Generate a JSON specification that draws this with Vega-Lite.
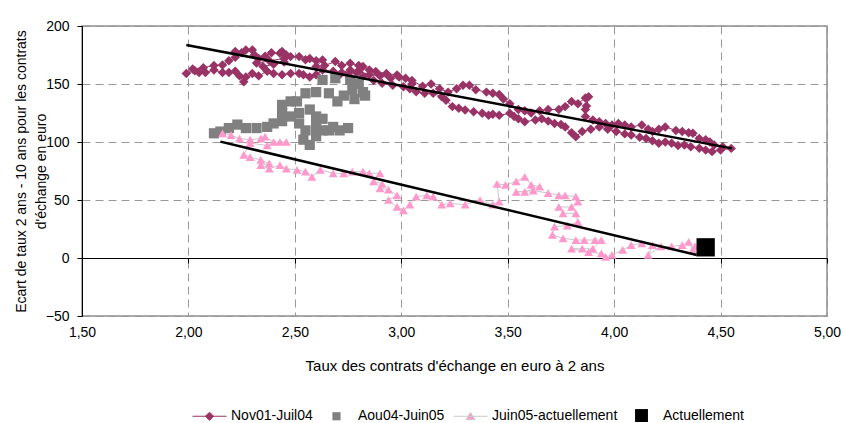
{
  "$schema": "https://vega.github.io/schema/vega-lite/v6.json",
  "width": 745,
  "height": 290,
  "autosize": "none",
  "padding": {"left": 82, "top": 26, "right": 16, "bottom": 107},
  "background": "white",
  "config": {
    "font": "Liberation Sans",
    "view": {"stroke": "#8f8f8f", "strokeWidth": 1.5},
    "axis": {
      "labelFont": "Liberation Sans", "labelFontSize": 14, "labelColor": "#000",
      "titleFont": "Liberation Sans", "titleFontSize": 14, "titleFontWeight": "normal", "titleColor": "#000",
      "gridColor": "#999999", "gridDash": [8, 5], "gridWidth": 1
    },
    "legend": {"orient": "none", "legendX": 110, "legendY": 372, "direction": "horizontal", "title": null,
      "symbolSize": 1156, "symbolStrokeWidth": 1, "symbolOpacity": 1, "labelFont": "Liberation Sans", "labelFontSize": 14, "labelColor": "#000", "labelOffset": 4, "columnPadding": 6}
  },
  "datasets": {
    "pts": [
      {"series":"Nov01-Juil04","x":3.05,"y":150},{"series":"Nov01-Juil04","x":3.02,"y":155},{"series":"Nov01-Juil04","x":2.99,"y":156},{"series":"Nov01-Juil04","x":3.05,"y":153},{"series":"Nov01-Juil04","x":3.10,"y":148},{"series":"Nov01-Juil04","x":3.14,"y":150},{"series":"Nov01-Juil04","x":3.18,"y":146},{"series":"Nov01-Juil04","x":3.22,"y":143},{"series":"Nov01-Juil04","x":3.26,"y":146},{"series":"Nov01-Juil04","x":3.29,"y":149},{"series":"Nov01-Juil04","x":3.32,"y":149},{"series":"Nov01-Juil04","x":3.35,"y":145},{"series":"Nov01-Juil04","x":3.40,"y":143},{"series":"Nov01-Juil04","x":3.43,"y":142},{"series":"Nov01-Juil04","x":3.46,"y":141},{"series":"Nov01-Juil04","x":3.48,"y":137},{"series":"Nov01-Juil04","x":3.51,"y":133},{"series":"Nov01-Juil04","x":3.55,"y":128},{"series":"Nov01-Juil04","x":3.58,"y":127},{"series":"Nov01-Juil04","x":3.61,"y":125},{"series":"Nov01-Juil04","x":3.65,"y":127},{"series":"Nov01-Juil04","x":3.69,"y":128},{"series":"Nov01-Juil04","x":3.74,"y":128},{"series":"Nov01-Juil04","x":3.77,"y":130.5},{"series":"Nov01-Juil04","x":3.80,"y":135},{"series":"Nov01-Juil04","x":3.83,"y":133},{"series":"Nov01-Juil04","x":3.865,"y":138},{"series":"Nov01-Juil04","x":3.88,"y":139},{"series":"Nov01-Juil04","x":3.87,"y":131},{"series":"Nov01-Juil04","x":3.865,"y":128},{"series":"Nov01-Juil04","x":3.865,"y":122},{"series":"Nov01-Juil04","x":3.90,"y":119},{"series":"Nov01-Juil04","x":3.93,"y":117.5},{"series":"Nov01-Juil04","x":3.96,"y":116},{"series":"Nov01-Juil04","x":3.99,"y":114.7},{"series":"Nov01-Juil04","x":4.02,"y":116},{"series":"Nov01-Juil04","x":4.05,"y":114.7},{"series":"Nov01-Juil04","x":4.08,"y":113},{"series":"Nov01-Juil04","x":4.13,"y":114.7},{"series":"Nov01-Juil04","x":4.16,"y":111},{"series":"Nov01-Juil04","x":4.18,"y":109},{"series":"Nov01-Juil04","x":4.21,"y":111},{"series":"Nov01-Juil04","x":4.24,"y":113},{"series":"Nov01-Juil04","x":4.29,"y":110},{"series":"Nov01-Juil04","x":4.32,"y":109},{"series":"Nov01-Juil04","x":4.35,"y":108},{"series":"Nov01-Juil04","x":4.37,"y":107.5},{"series":"Nov01-Juil04","x":4.40,"y":103},{"series":"Nov01-Juil04","x":4.43,"y":102},{"series":"Nov01-Juil04","x":4.45,"y":100},{"series":"Nov01-Juil04","x":4.47,"y":97.4},{"series":"Nov01-Juil04","x":4.51,"y":96},{"series":"Nov01-Juil04","x":4.55,"y":94.5},
      {"series":"Nov01-Juil04","x":4.50,"y":93},{"series":"Nov01-Juil04","x":4.46,"y":91.7},{"series":"Nov01-Juil04","x":4.43,"y":93},{"series":"Nov01-Juil04","x":4.40,"y":94.6},{"series":"Nov01-Juil04","x":4.36,"y":96},{"series":"Nov01-Juil04","x":4.33,"y":97.4},{"series":"Nov01-Juil04","x":4.30,"y":97},{"series":"Nov01-Juil04","x":4.27,"y":98.9},{"series":"Nov01-Juil04","x":4.24,"y":100},{"series":"Nov01-Juil04","x":4.21,"y":98.9},{"series":"Nov01-Juil04","x":4.18,"y":101},{"series":"Nov01-Juil04","x":4.15,"y":103},{"series":"Nov01-Juil04","x":4.12,"y":104},{"series":"Nov01-Juil04","x":4.08,"y":106},{"series":"Nov01-Juil04","x":4.05,"y":107},{"series":"Nov01-Juil04","x":4.01,"y":109},{"series":"Nov01-Juil04","x":3.97,"y":111},{"series":"Nov01-Juil04","x":3.93,"y":113},{"series":"Nov01-Juil04","x":3.89,"y":111},{"series":"Nov01-Juil04","x":3.85,"y":109},{"series":"Nov01-Juil04","x":3.82,"y":104.6},{"series":"Nov01-Juil04","x":3.80,"y":108},{"series":"Nov01-Juil04","x":3.77,"y":113},{"series":"Nov01-Juil04","x":3.75,"y":115},{"series":"Nov01-Juil04","x":3.72,"y":116},{"series":"Nov01-Juil04","x":3.69,"y":118},{"series":"Nov01-Juil04","x":3.66,"y":120},{"series":"Nov01-Juil04","x":3.63,"y":119},{"series":"Nov01-Juil04","x":3.58,"y":117.5},{"series":"Nov01-Juil04","x":3.55,"y":120},{"series":"Nov01-Juil04","x":3.53,"y":122},{"series":"Nov01-Juil04","x":3.51,"y":124.7},{"series":"Nov01-Juil04","x":3.46,"y":123},{"series":"Nov01-Juil04","x":3.43,"y":124},{"series":"Nov01-Juil04","x":3.41,"y":123},{"series":"Nov01-Juil04","x":3.38,"y":124.7},{"series":"Nov01-Juil04","x":3.34,"y":126},{"series":"Nov01-Juil04","x":3.30,"y":127.6},{"series":"Nov01-Juil04","x":3.27,"y":129},{"series":"Nov01-Juil04","x":3.24,"y":130.5},{"series":"Nov01-Juil04","x":3.21,"y":136},{"series":"Nov01-Juil04","x":3.19,"y":139},{"series":"Nov01-Juil04","x":3.15,"y":142},{"series":"Nov01-Juil04","x":3.11,"y":142},{"series":"Nov01-Juil04","x":3.07,"y":143.4},{"series":"Nov01-Juil04","x":3.04,"y":146},{"series":"Nov01-Juil04","x":3.01,"y":147.7},{"series":"Nov01-Juil04","x":2.96,"y":149},{"series":"Nov01-Juil04","x":2.91,"y":150.6},{"series":"Nov01-Juil04","x":2.87,"y":153},{"series":"Nov01-Juil04","x":2.82,"y":156.4},{"series":"Nov01-Juil04","x":2.79,"y":160},{"series":"Nov01-Juil04","x":2.76,"y":162},{"series":"Nov01-Juil04","x":2.72,"y":160},{"series":"Nov01-Juil04","x":2.68,"y":161},{"series":"Nov01-Juil04","x":2.63,"y":162},{"series":"Nov01-Juil04","x":2.60,"y":158},{"series":"Nov01-Juil04","x":2.57,"y":156},{"series":"Nov01-Juil04","x":2.54,"y":158},{"series":"Nov01-Juil04","x":2.52,"y":159},{"series":"Nov01-Juil04","x":2.48,"y":159},{"series":"Nov01-Juil04","x":2.44,"y":158},{"series":"Nov01-Juil04","x":2.40,"y":159},{"series":"Nov01-Juil04","x":2.37,"y":161},{"series":"Nov01-Juil04","x":2.33,"y":157},{"series":"Nov01-Juil04","x":2.30,"y":159},{"series":"Nov01-Juil04","x":2.27,"y":156},{"series":"Nov01-Juil04","x":2.26,"y":152},{"series":"Nov01-Juil04","x":2.24,"y":157},{"series":"Nov01-Juil04","x":2.22,"y":161},{"series":"Nov01-Juil04","x":2.19,"y":160},{"series":"Nov01-Juil04","x":2.16,"y":160},{"series":"Nov01-Juil04","x":2.12,"y":162},{"series":"Nov01-Juil04","x":2.08,"y":160},{"series":"Nov01-Juil04","x":2.05,"y":160},{"series":"Nov01-Juil04","x":2.03,"y":161.5},{"series":"Nov01-Juil04","x":1.99,"y":159},
      {"series":"Nov01-Juil04","x":2.02,"y":163},{"series":"Nov01-Juil04","x":2.07,"y":164},{"series":"Nov01-Juil04","x":2.12,"y":166},{"series":"Nov01-Juil04","x":2.16,"y":166.4},{"series":"Nov01-Juil04","x":2.19,"y":170},{"series":"Nov01-Juil04","x":2.22,"y":173},{"series":"Nov01-Juil04","x":2.22,"y":178},{"series":"Nov01-Juil04","x":2.25,"y":177},{"series":"Nov01-Juil04","x":2.27,"y":179.4},{"series":"Nov01-Juil04","x":2.30,"y":179.4},{"series":"Nov01-Juil04","x":2.31,"y":175},{"series":"Nov01-Juil04","x":2.33,"y":172},{"series":"Nov01-Juil04","x":2.36,"y":174},{"series":"Nov01-Juil04","x":2.39,"y":177},{"series":"Nov01-Juil04","x":2.43,"y":176.5},{"series":"Nov01-Juil04","x":2.44,"y":178},{"series":"Nov01-Juil04","x":2.46,"y":175},{"series":"Nov01-Juil04","x":2.48,"y":173.6},{"series":"Nov01-Juil04","x":2.45,"y":169},{"series":"Nov01-Juil04","x":2.40,"y":167},{"series":"Nov01-Juil04","x":2.35,"y":165},{"series":"Nov01-Juil04","x":2.32,"y":168},{"series":"Nov01-Juil04","x":2.38,"y":170},{"series":"Nov01-Juil04","x":2.45,"y":172},{"series":"Nov01-Juil04","x":2.52,"y":173.6},{"series":"Nov01-Juil04","x":2.55,"y":171},{"series":"Nov01-Juil04","x":2.57,"y":172},{"series":"Nov01-Juil04","x":2.60,"y":170},{"series":"Nov01-Juil04","x":2.63,"y":170.7},{"series":"Nov01-Juil04","x":2.60,"y":165},{"series":"Nov01-Juil04","x":2.64,"y":166},{"series":"Nov01-Juil04","x":2.69,"y":169.3},{"series":"Nov01-Juil04","x":2.72,"y":166},{"series":"Nov01-Juil04","x":2.76,"y":167.9},{"series":"Nov01-Juil04","x":2.80,"y":166},{"series":"Nov01-Juil04","x":2.82,"y":165},{"series":"Nov01-Juil04","x":2.85,"y":162},{"series":"Nov01-Juil04","x":2.88,"y":160.7},{"series":"Nov01-Juil04","x":2.93,"y":159},{"series":"Nov01-Juil04","x":2.98,"y":157.8},{"series":"Nov01-Juil04","x":2.95,"y":155},{"series":"Nov01-Juil04","x":2.90,"y":157},{"series":"Nov01-Juil04","x":2.85,"y":158},{"series":"Nov01-Juil04","x":2.80,"y":161},{"series":"Nov01-Juil04","x":2.75,"y":158},{"series":"Nov01-Juil04","x":2.70,"y":156},
      {"series":"Aou04-Juin05","x":2.63,"y":153.5},{"series":"Aou04-Juin05","x":2.69,"y":155},{"series":"Aou04-Juin05","x":2.76,"y":153.5},{"series":"Aou04-Juin05","x":2.80,"y":150},{"series":"Aou04-Juin05","x":2.77,"y":145},{"series":"Aou04-Juin05","x":2.82,"y":143},{"series":"Aou04-Juin05","x":2.83,"y":140},{"series":"Aou04-Juin05","x":2.78,"y":137},{"series":"Aou04-Juin05","x":2.73,"y":140},{"series":"Aou04-Juin05","x":2.70,"y":135},{"series":"Aou04-Juin05","x":2.66,"y":142},{"series":"Aou04-Juin05","x":2.60,"y":143},{"series":"Aou04-Juin05","x":2.55,"y":142},{"series":"Aou04-Juin05","x":2.51,"y":135},{"series":"Aou04-Juin05","x":2.48,"y":135},{"series":"Aou04-Juin05","x":2.44,"y":132},{"series":"Aou04-Juin05","x":2.44,"y":125},{"series":"Aou04-Juin05","x":2.48,"y":122},{"series":"Aou04-Juin05","x":2.52,"y":125},{"series":"Aou04-Juin05","x":2.57,"y":128},{"series":"Aou04-Juin05","x":2.60,"y":122},{"series":"Aou04-Juin05","x":2.63,"y":120},{"series":"Aou04-Juin05","x":2.60,"y":113},{"series":"Aou04-Juin05","x":2.55,"y":110},{"series":"Aou04-Juin05","x":2.54,"y":102},{"series":"Aou04-Juin05","x":2.57,"y":97.5},{"series":"Aou04-Juin05","x":2.60,"y":105},{"series":"Aou04-Juin05","x":2.63,"y":110},{"series":"Aou04-Juin05","x":2.68,"y":113},{"series":"Aou04-Juin05","x":2.71,"y":110},{"series":"Aou04-Juin05","x":2.75,"y":112},{"series":"Aou04-Juin05","x":2.66,"y":110},{"series":"Aou04-Juin05","x":2.60,"y":116},{"series":"Aou04-Juin05","x":2.52,"y":116},{"series":"Aou04-Juin05","x":2.44,"y":118},{"series":"Aou04-Juin05","x":2.40,"y":116},{"series":"Aou04-Juin05","x":2.37,"y":113},{"series":"Aou04-Juin05","x":2.32,"y":112},{"series":"Aou04-Juin05","x":2.27,"y":112},{"series":"Aou04-Juin05","x":2.23,"y":115},{"series":"Aou04-Juin05","x":2.19,"y":112},{"series":"Aou04-Juin05","x":2.15,"y":109},{"series":"Aou04-Juin05","x":2.12,"y":107.5},
      {"series":"Juin05-actuellement","x":2.16,"y":107.5},{"series":"Juin05-actuellement","x":2.20,"y":106},{"series":"Juin05-actuellement","x":2.24,"y":103},{"series":"Juin05-actuellement","x":2.29,"y":102},{"series":"Juin05-actuellement","x":2.34,"y":103},{"series":"Juin05-actuellement","x":2.36,"y":104.6},{"series":"Juin05-actuellement","x":2.40,"y":100},{"series":"Juin05-actuellement","x":2.43,"y":100},{"series":"Juin05-actuellement","x":2.46,"y":100},{"series":"Juin05-actuellement","x":2.37,"y":97},{"series":"Juin05-actuellement","x":2.29,"y":99},{"series":"Juin05-actuellement","x":2.26,"y":89},{"series":"Juin05-actuellement","x":2.29,"y":87},{"series":"Juin05-actuellement","x":2.34,"y":84.5},{"series":"Juin05-actuellement","x":2.38,"y":81.6},{"series":"Juin05-actuellement","x":2.34,"y":80},{"series":"Juin05-actuellement","x":2.38,"y":77},{"series":"Juin05-actuellement","x":2.43,"y":80},{"series":"Juin05-actuellement","x":2.46,"y":77},{"series":"Juin05-actuellement","x":2.51,"y":76},{"series":"Juin05-actuellement","x":2.55,"y":74.5},{"series":"Juin05-actuellement","x":2.58,"y":70},{"series":"Juin05-actuellement","x":2.62,"y":76},{"series":"Juin05-actuellement","x":2.68,"y":73},{"series":"Juin05-actuellement","x":2.73,"y":73},{"series":"Juin05-actuellement","x":2.77,"y":74.5},{"series":"Juin05-actuellement","x":2.82,"y":74.5},{"series":"Juin05-actuellement","x":2.85,"y":73},{"series":"Juin05-actuellement","x":2.90,"y":73},{"series":"Juin05-actuellement","x":2.87,"y":66},{"series":"Juin05-actuellement","x":2.91,"y":64},{"series":"Juin05-actuellement","x":2.90,"y":60},{"series":"Juin05-actuellement","x":2.94,"y":59},{"series":"Juin05-actuellement","x":2.98,"y":54},{"series":"Juin05-actuellement","x":2.94,"y":50},{"series":"Juin05-actuellement","x":2.98,"y":44},{"series":"Juin05-actuellement","x":3.01,"y":41},{"series":"Juin05-actuellement","x":3.04,"y":46},{"series":"Juin05-actuellement","x":3.07,"y":53},{"series":"Juin05-actuellement","x":3.12,"y":54},{"series":"Juin05-actuellement","x":3.15,"y":53},{"series":"Juin05-actuellement","x":3.19,"y":46},{"series":"Juin05-actuellement","x":3.23,"y":47},{"series":"Juin05-actuellement","x":3.30,"y":46},{"series":"Juin05-actuellement","x":3.37,"y":50},{"series":"Juin05-actuellement","x":3.43,"y":46},{"series":"Juin05-actuellement","x":3.46,"y":48.6},{"series":"Juin05-actuellement","x":3.45,"y":64},{"series":"Juin05-actuellement","x":3.49,"y":63},{"series":"Juin05-actuellement","x":3.54,"y":66},{"series":"Juin05-actuellement","x":3.58,"y":70},{"series":"Juin05-actuellement","x":3.61,"y":63},{"series":"Juin05-actuellement","x":3.65,"y":61.5},{"series":"Juin05-actuellement","x":3.58,"y":57},{"series":"Juin05-actuellement","x":3.54,"y":57},{"series":"Juin05-actuellement","x":3.62,"y":58},{"series":"Juin05-actuellement","x":3.69,"y":56},{"series":"Juin05-actuellement","x":3.74,"y":54},{"series":"Juin05-actuellement","x":3.77,"y":54},{"series":"Juin05-actuellement","x":3.82,"y":53},{"series":"Juin05-actuellement","x":3.83,"y":48.6},{"series":"Juin05-actuellement","x":3.80,"y":44},{"series":"Juin05-actuellement","x":3.74,"y":44},{"series":"Juin05-actuellement","x":3.76,"y":38.5},{"series":"Juin05-actuellement","x":3.82,"y":38.5},{"series":"Juin05-actuellement","x":3.83,"y":31},{"series":"Juin05-actuellement","x":3.78,"y":28},{"series":"Juin05-actuellement","x":3.72,"y":27},{"series":"Juin05-actuellement","x":3.71,"y":20},{"series":"Juin05-actuellement","x":3.76,"y":17},{"series":"Juin05-actuellement","x":3.82,"y":15.5},{"series":"Juin05-actuellement","x":3.86,"y":15.5},{"series":"Juin05-actuellement","x":3.91,"y":15.5},{"series":"Juin05-actuellement","x":3.94,"y":15.5},{"series":"Juin05-actuellement","x":3.90,"y":8},{"series":"Juin05-actuellement","x":3.85,"y":8},{"series":"Juin05-actuellement","x":3.80,"y":8},{"series":"Juin05-actuellement","x":3.88,"y":5},{"series":"Juin05-actuellement","x":3.94,"y":4},{"series":"Juin05-actuellement","x":3.96,"y":1},{"series":"Juin05-actuellement","x":3.99,"y":2.6},{"series":"Juin05-actuellement","x":4.04,"y":7},{"series":"Juin05-actuellement","x":4.08,"y":11},{"series":"Juin05-actuellement","x":4.13,"y":12.7},{"series":"Juin05-actuellement","x":4.18,"y":11},{"series":"Juin05-actuellement","x":4.16,"y":2.6},{"series":"Juin05-actuellement","x":4.22,"y":10},{"series":"Juin05-actuellement","x":4.27,"y":10},{"series":"Juin05-actuellement","x":4.32,"y":11},{"series":"Juin05-actuellement","x":4.35,"y":14},{"series":"Juin05-actuellement","x":4.37,"y":7},{"series":"Juin05-actuellement","x":4.38,"y":10},
      {"series":"Actuellement","x":4.43,"y":9.2}
    ],
    "fits": [
      {"fit":"a","x":1.99,"y":183.7},{"fit":"a","x":4.553,"y":94.5},
      {"fit":"b","x":2.15,"y":100.3},{"fit":"b","x":4.388,"y":2.6}
    ],
    "legendkeys": [
      {"series":"Nov01-Juil04"},{"series":"Aou04-Juin05"},{"series":"Juin05-actuellement"},{"series":"Actuellement"}
    ]
  },
  "resolve": {"axis": {"x": "independent"}, "scale": {"color": "independent"}, "legend": {"color": "independent"}},
  "layer": [
    {
      "data": {"name": "pts"},
      "transform": [
        {"filter": "datum.series === 'Nov01-Juil04' || datum.series === 'Juin05-actuellement'"},
        {"window": [{"op": "row_number", "as": "i"}]}
      ],
      "mark": {"type": "line", "strokeWidth": 1},
      "encoding": {
        "x": {"field": "x", "type": "quantitative", "scale": {"domain": [1.5, 5], "nice": false, "zero": false}, "axis": null},
        "y": {"field": "y", "type": "quantitative", "scale": {"domain": [-50, 200], "nice": false, "zero": false},
          "axis": {"values": [-50, 0, 50, 100, 150, 200], "grid": true, "domainColor": "#000", "tickColor": "#000", "tickSize": 5, "labelPadding": 8,
            "title": ["Ecart de taux 2 ans - 10 ans pour les contrats", "d'échange en euro"], "titlePadding": -3, "titleLineHeight": 20}},
        "detail": {"field": "series"},
        "order": {"field": "i"},
        "color": {"condition": {"test": "datum.series === 'Nov01-Juil04'", "value": "#993366"}, "value": "#C8C8C8"}
      }
    },
    {
      "data": {"name": "pts"},
      "mark": {"type": "point", "filled": true, "opacity": 1},
      "encoding": {
        "x": {"field": "x", "type": "quantitative",
          "axis": {"orient": "bottom", "values": [1.5, 2, 2.5, 3, 3.5, 4, 4.5, 5], "labelExpr": "replace(format(datum.value, '.2f'), '.', ',')",
            "grid": true, "domain": false, "ticks": false, "tickSize": 0, "labelPadding": 9, "labelFlush": false,
            "title": "Taux des contrats d'échange en euro à 2 ans", "titleFontSize": 15, "titlePadding": 19}},
        "y": {"field": "y", "type": "quantitative"},
        "color": {"field": "series", "type": "nominal", "legend": null,
          "scale": {"domain": ["Nov01-Juil04", "Aou04-Juin05", "Juin05-actuellement", "Actuellement"], "range": ["#993366", "#808080", "#FF99CC", "#000000"]}},
        "shape": {"condition": [{"test": "datum.series === 'Nov01-Juil04'", "value": "diamond"}, {"test": "datum.series === 'Juin05-actuellement'", "value": "triangle-up"}], "value": "square"},
        "size": {"condition": [{"test": "datum.series === 'Actuellement'", "value": 335}, {"test": "datum.series === 'Aou04-Juin05'", "value": 105}, {"test": "datum.series === 'Juin05-actuellement'", "value": 80}], "value": 90}
      }
    },
    {
      "data": {"name": "legendkeys"},
      "mark": {"type": "point", "filled": true, "opacity": 0, "size": 1156, "strokeWidth": 1},
      "encoding": {
        "fill": {"field": "series", "type": "nominal",
          "scale": {"domain": ["Nov01-Juil04", "Aou04-Juin05", "Juin05-actuellement", "Actuellement"], "range": ["#993366", "#808080", "#FF99CC", "#000000"]}},
        "stroke": {"field": "series", "type": "nominal",
          "scale": {"domain": ["Nov01-Juil04", "Aou04-Juin05", "Juin05-actuellement", "Actuellement"], "range": ["#993366", "transparent", "#C8C8C8", "transparent"]}},
        "shape": {"field": "series", "type": "nominal",
          "scale": {"domain": ["Nov01-Juil04", "Aou04-Juin05", "Juin05-actuellement", "Actuellement"],
            "range": ["M-1,0L1,0M0,-0.24L0.24,0L0,0.24L-0.24,0Z", "M-0.24,-0.24L0.24,-0.24L0.24,0.24L-0.24,0.24Z", "M-1,0L1,0M0,-0.22L0.25,0.2L-0.25,0.2Z", "M-0.38,-0.38L0.38,-0.38L0.38,0.38L-0.38,0.38Z"]}}
      }
    },
    {
      "data": {"name": "fits"},
      "mark": {"type": "line", "color": "#000", "strokeWidth": 2.5},
      "encoding": {
        "x": {"field": "x", "type": "quantitative",
          "axis": {"orient": "bottom", "offset": -58, "values": [1.5, 2, 2.5, 3, 3.5, 4, 4.5, 5], "labels": false, "grid": false,
            "domain": true, "domainColor": "#000", "domainWidth": 1, "ticks": true, "tickColor": "#000", "tickSize": 5, "title": null}},
        "y": {"field": "y", "type": "quantitative"},
        "detail": {"field": "fit"}
      }
    }
  ]
}
